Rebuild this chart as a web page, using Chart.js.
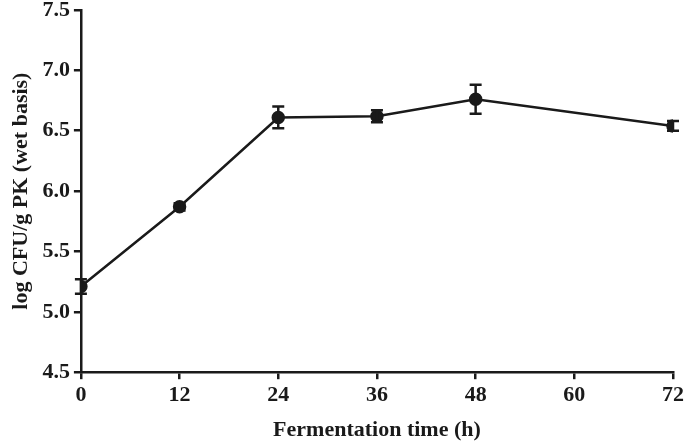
<!DOCTYPE html>
<html>
<head>
<meta charset="utf-8">
<script src="https://cdn.jsdelivr.net/npm/chart.js@4.4.0/dist/chart.umd.min.js"></script>
<style>
  html, body { margin: 0; padding: 0; background: #fff; }
  #wrap { width: 685px; height: 444px; }
</style>
</head>
<body>
<div id="wrap"><canvas id="chart"></canvas></div>
<script>
// fermentation time (h) and log CFU/g values
const hours = [0, 12, 24, 36, 48, 72];
const logCfu = [5.21, 5.87, 6.61, 6.62, 6.76, 6.54];
const errors = [0.06, 0.03, 0.09, 0.05, 0.12, 0.04];

const FONT = "'Liberation Serif', 'Times New Roman', serif";

// draws vertical error bars with caps using the chart scales
const errorBars = {
    id: 'errorBars',
    afterDatasetsDraw(chart) {
        const ctx = chart.ctx;
        const xs = chart.scales.x, ys = chart.scales.y;
        ctx.save();
        ctx.strokeStyle = '#1a1a1a';
        ctx.lineWidth = 2.5;
        hours.forEach((h, i) => {
            const x = xs.getPixelForValue(h);
            const top = ys.getPixelForValue(logCfu[i] + errors[i]);
            const bot = ys.getPixelForValue(logCfu[i] - errors[i]);
            ctx.beginPath();
            ctx.moveTo(x, top); ctx.lineTo(x, bot);
            ctx.moveTo(x - 6, top); ctx.lineTo(x + 6, top);
            ctx.moveTo(x - 6, bot); ctx.lineTo(x + 6, bot);
            ctx.stroke();
        });
        ctx.restore();
    }
};

new Chart(document.getElementById('chart'), {
    type: 'scatter',
    data: {
        datasets: [{
            data: hours.map((h, i) => ({ x: h, y: logCfu[i] })),
            showLine: true,
            borderColor: '#1a1a1a',
            backgroundColor: '#1a1a1a',
            borderWidth: 2.5,
            pointRadius: 5.5,
            pointHoverRadius: 5.5
        }]
    },
    options: {
        responsive: true,
        maintainAspectRatio: false,
        animation: false,
        layout: { padding: { top: 0, right: 0, left: 4, bottom: 0 } },
        plugins: { legend: { display: false }, tooltip: { enabled: false } },
        scales: {
            x: {
                type: 'linear', min: 0, max: 72,
                border: { color: '#1a1a1a', width: 2.5 },
                grid: { drawOnChartArea: false, drawTicks: true, tickLength: 7, color: '#1a1a1a', lineWidth: 2.5 },
                ticks: { stepSize: 12, color: '#1a1a1a', padding: 3, font: { family: FONT, size: 22, weight: 'bold' } },
                title: { display: true, text: 'Fermentation time (h)', color: '#1a1a1a', padding: { top: 6, bottom: 0 }, font: { family: FONT, size: 22, weight: 'bold' } },
                afterFit: s => { s.paddingRight = 12; }
            },
            y: {
                min: 4.5, max: 7.5,
                border: { color: '#1a1a1a', width: 2.5 },
                grid: { drawOnChartArea: false, drawTicks: true, tickLength: 7, color: '#1a1a1a', lineWidth: 2.5 },
                ticks: { stepSize: 0.5, color: '#1a1a1a', padding: 4, font: { family: FONT, size: 22, weight: 'bold' },
                         callback: v => v.toFixed(1) },
                title: { display: true, text: 'log CFU/g PK (wet basis)', color: '#1a1a1a', padding: 4, font: { family: FONT, size: 22, weight: 'bold' } },
                afterFit: s => { s.paddingTop = 10; }
            }
        }
    },
    plugins: [errorBars]
});
</script>
</body>
</html>
